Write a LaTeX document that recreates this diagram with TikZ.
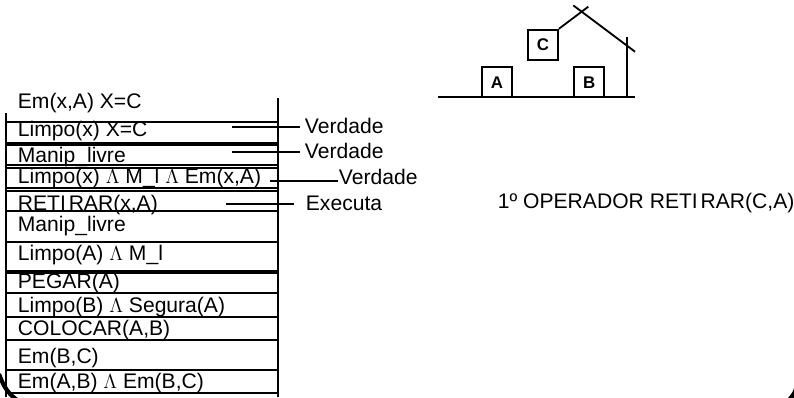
\documentclass[tikz,border=0pt]{standalone}
\usepackage{fontspec}
\setmainfont{Liberation Sans}
\begin{document}
\begin{tikzpicture}[x=0.025cm,y=-0.025cm,line width=1.3pt,
        every node/.style={font=\fontsize{15}{18}\selectfont},
        row/.style={anchor=base west,inner sep=0pt},
        tag/.style={anchor=west,inner sep=0pt},
        block/.style={draw,minimum size=0.75cm,inner sep=0pt,font=\fontsize{12}{14}\selectfont\bfseries}]
        \useasboundingbox (0,0) rectangle (794,397);
        % Draw plan rows
        \foreach \y/\name/\txt in {108/r1/{Em(x,A) X=C}, 136/r2/{Limpo(x) X=C}, 162/r3/{Manip\_livre},
                183/r4/{Limpo(x) $\Lambda$ M\_l $\Lambda$ Em(x,A)}, 210/r5/{RETI\kern2pt RAR(x,A)},
                231/r6/{Manip\_livre}, 260/r7/{Limpo(A) $\Lambda$ M\_l}, 288/r8/{PEGAR(A)},
                312/r9/{Limpo(B) $\Lambda$ Segura(A)}, 335/r10/{COLOCAR(A,B)}, 363/r11/{Em(B,C)},
                388/r12/{Em(A,B) $\Lambda$ Em(B,C)}} {
            \node[row] (\name) at (17,\y) {\txt};
        }
        % Draw table lines
        \foreach \y in {121.7,142.7,145.3,165,167.6,188.3,191,211,241.7,270.7,273.3,293.3,317.3,340,370,393.3} {
            \draw (6,\y) -- (278,\y);
        }
        \draw (6,113) -- (6,397);
        \draw (278,98) -- (278,397);
        % Draw checks
        \coordinate (c1) at (231.7,126.7);
        \coordinate (c2) at (231.7,151.7);
        \coordinate (c3) at (270,181);
        \coordinate (c4) at (226,204);
        \node[tag] (v1) at (304,125.5) {Verdade};
        \node[tag] (v2) at (304,150.5) {Verdade};
        \node[tag] (v3) at (338,177) {Verdade};
        \node[tag] (ex) at (305,203) {Executa};
        \draw [shorten >=0.1cm] (c1) -- (c1 -| v1.west);
        \draw [shorten >=0.1cm] (c2) -- (c2 -| v2.west);
        \draw (c3) -- (c3 -| v3.west);
        \draw [shorten >=0.275cm] (c4) -- (c4 -| ex.west);
        \node[tag] (op) at (497,203) {1º OPERADOR RETI\kern2pt RAR(C,A)};
        % Draw blocks
        \draw (438.3,97.3) -- (635,97.3);
        \node[block] (a) at (497,82.3) {A};
        \node[block] (b) at (589.2,82.3) {B};
        \node[block] (c) at (543,44.7) {C};
        % Draw roof and wall
        \draw (c.north east) -- (588.3,6.7);
        \draw (573.3,5.4) -- (635,51.7);
        \draw (626.7,37.3) -- (626.7,97.3);
        % Frame corners
        \draw [line width=3pt] (-1,374) .. controls (4,388) and (9,394) .. (17,400);
        \draw [line width=3pt] (796,389) .. controls (794,394) .. (789,400);
    \end{tikzpicture}
\end{document}
